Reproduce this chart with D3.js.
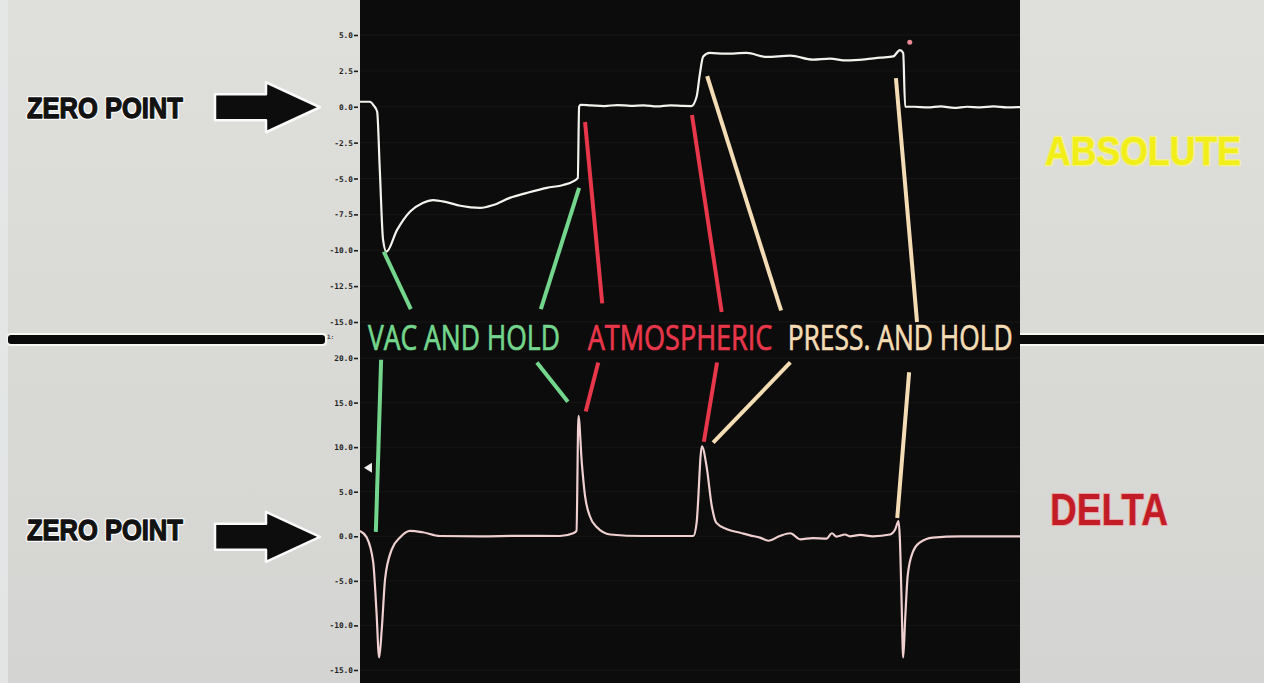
<!DOCTYPE html>
<html><head><meta charset="utf-8">
<script src="https://cdn.jsdelivr.net/npm/d3@7"></script>
<style>html,body{margin:0;padding:0;background:#d9d9d5;overflow:hidden}</style>
</head><body><svg id="c" width="1264" height="683"></svg>
<script>
// ---------- DATA ----------
// Absolute pressure trace (time units 0..100, value)
const absTime  = [0,1.5,2.1,2.6,3.0,3.5,4.0,5.6,7.6,9.5,11.1,13.1,15.2,18.2,20.2,22.7,25.3,28.3,30.8,32.3,33.0,33.2,33.4,35,37,39,41,43,45,47,49,50.2,51.0,51.5,52.0,53.0,55.3,58.6,61.6,65.2,68.6,71.2,73.7,76.5,78.8,80.8,81.8,82.3,82.6,84,86,88,90,92,94,96,98,100];
const absValue = [0.35,0.35,0.07,-0.35,-4.4,-9.3,-10.1,-8.6,-7.3,-6.7,-6.5,-6.65,-6.9,-7.05,-6.85,-6.35,-6.0,-5.65,-5.45,-5.2,-4.95,0.0,0.14,0.1,0.05,0.12,0.06,0.1,0.02,0.1,0.06,0.05,0.7,2.3,3.5,3.75,3.7,3.75,3.47,3.56,3.28,3.35,3.23,3.3,3.42,3.51,3.95,3.75,0.0,0.0,-0.05,0.03,-0.08,0.0,-0.04,0.02,-0.05,-0.02];
// Delta pressure trace
const deltaTime  = [0,1.0,2.0,2.5,2.9,3.3,3.8,4.8,6.1,7.6,9.5,12.1,18.2,24.2,30.3,32.3,32.8,33.1,33.6,34.1,34.8,35.9,37.9,42.9,50.5,51.0,51.8,52.5,53.3,54.0,55.6,57.6,59.1,60.6,61.9,63.6,65.2,66.7,68.6,70.7,71.5,72.2,73.5,74.2,75.8,77.7,80.3,81.1,81.6,81.8,82.05,82.3,82.6,83.0,83.8,84.8,86.8,90.9,100];
const deltaValue = [0.6,-0.1,-2.9,-8.5,-13.6,-10.4,-4.8,-1.5,-0.1,0.6,0.45,0.03,0.0,0.05,0.03,0.34,0.6,13.5,8.3,4.5,2.3,1.0,0.2,0.03,0.03,1.5,10.1,7.9,3.4,1.5,0.8,0.4,0.1,-0.15,-0.5,0.03,0.34,-0.34,-0.2,-0.26,0.34,-0.03,0.2,0.0,0.15,0.0,0.2,0.8,1.7,-0.34,-7.0,-13.6,-9.3,-4.3,-1.7,-0.7,-0.15,0.0,0.0];
// Tick labels
const absTicks   = [5,2.5,0,-2.5,-5,-7.5,-10,-12.5,-15];
const deltaTicks = [20,15,10,5,0,-5,-10,-15];
// Phase labels
const phaseNames  = ["VAC AND HOLD","ATMOSPHERIC","PRESS. AND HOLD"];
const phaseStartT = [1.2,34.5,64.8];
const phaseWidthT = [29.1,28.0,34.1];
const phaseColors = ["#74d68c","#e8374a","#f4dcb4"];
// Leader lines: [phase index, panel, t1, v1, t2, v2]
const leaderPhase = [0,0,1,1,2,2, 0,0,1,1,2,2];
const leaderPanel = ["abs","abs","abs","abs","abs","abs","delta","delta","delta","delta","delta","delta"];
const leaderT1 = [3.6,33.2,34.1,50.3,52.6,81.2, 3.2,26.8,36.1,54.1,65.2,83.2];
const leaderV1 = [-10.1,-5.66,-1.06,-0.58,2.14,2.0, 19.8,19.5,19.5,19.5,19.5,18.4];
const leaderT2 = [7.7,27.4,36.7,54.8,63.8,84.4, 2.4,31.5,34.2,52.1,53.5,81.4];
const leaderV2 = [-14.1,-14.1,-13.7,-14.3,-14.2,-15.0, 0.5,15.1,14.0,10.6,10.5,2.05];
// Side labels
const sideLabels = ["ABSOLUTE","DELTA"];
const zeroLabel = "ZERO POINT";

// ---------- SCALES ----------
const svg = d3.select("#c");
const W = 1264, H = 683;
const x = d3.scaleLinear().domain([0,100]).range([360,1020]);
const yA = d3.scaleLinear().domain([-15,5]).range([322,35]);
const yD = d3.scaleLinear().domain([-15,20]).range([670,358]);

// horizontally fit a text to a width with a transform
function fit(sel, w){
  const nat = sel.node().getComputedTextLength();
  const x0 = +sel.attr("x");
  sel.attr("transform",`translate(${x0},0) scale(${w/nat},1) translate(${-x0},0)`);
  return sel;
}

// background
const defs = svg.append("defs");
const g1 = defs.append("linearGradient").attr("id","bg").attr("x1",0).attr("y1",0).attr("x2",0).attr("y2",1);
g1.append("stop").attr("offset","0%").attr("stop-color","#dfdfdb");
g1.append("stop").attr("offset","100%").attr("stop-color","#d4d5d2");
svg.append("rect").attr("width",W).attr("height",H).attr("fill","url(#bg)");
svg.append("rect").attr("x",0).attr("y",0).attr("width",8).attr("height",H).attr("fill","#e6e8ea").attr("opacity",0.8);

// divider bars (behind plot area)
svg.append("rect").attr("x",7).attr("y",333).attr("width",320).attr("height",13).attr("rx",4).attr("fill","#f6f6f2");
svg.append("rect").attr("x",8).attr("y",335).attr("width",317).attr("height",9).attr("rx",3).attr("fill","#0a0a0a");
svg.append("rect").attr("x",1010).attr("y",333).attr("width",260).attr("height",13).attr("fill","#f6f6f2");
svg.append("rect").attr("x",1010).attr("y",335).attr("width",260).attr("height",9).attr("fill","#0a0a0a");

// plot area
svg.append("rect").attr("x",x(0)).attr("y",0).attr("width",x(100)-x(0)).attr("height",H).attr("fill","#0c0c0c");

// faint grid
const grid = svg.append("g").attr("stroke","#161616").attr("stroke-width",1);
absTicks.forEach(v=>grid.append("line").attr("x1",x(0)).attr("x2",x(100)).attr("y1",yA(v)).attr("y2",yA(v)));
deltaTicks.forEach(v=>grid.append("line").attr("x1",x(0)).attr("x2",x(100)).attr("y1",yD(v)).attr("y2",yD(v)));

// axes
function styleAxis(g){
  g.select(".domain").remove();
  g.selectAll(".tick line").attr("stroke","#1c1c1c").attr("stroke-width",1.6);
  g.selectAll(".tick text").attr("fill","#1e1e1e").style("font-family","'DejaVu Sans Mono',monospace").style("font-weight","bold").style("font-size","7.8px");
}
svg.append("g").attr("transform","translate(358,0)")
  .call(d3.axisLeft(yA).tickValues(absTicks).tickFormat(d=>d.toFixed(1)).tickSize(4).tickPadding(1)).call(styleAxis);
svg.append("g").attr("transform","translate(358,0)")
  .call(d3.axisLeft(yD).tickValues(deltaTicks).tickFormat(d=>d.toFixed(1)).tickSize(4).tickPadding(1)).call(styleAxis);
svg.append("text").attr("x",327).attr("y",339).text("1:").attr("fill","#444").style("font-family","'DejaVu Sans Mono',monospace").style("font-size","6px").style("font-weight","bold");

// traces
const absData = absTime.map((t,i)=>({t,v:absValue[i]}));
const deltaData = deltaTime.map((t,i)=>({t,v:deltaValue[i]}));
svg.append("path").datum(absData)
  .attr("d",d3.line().x(d=>x(d.t)).y(d=>yA(d.v)).curve(d3.curveMonotoneX))
  .attr("fill","none").attr("stroke","#f2f2ee").attr("stroke-width",2.2).attr("stroke-linejoin","round");
svg.append("path").datum(deltaData)
  .attr("d",d3.line().x(d=>x(d.t)).y(d=>yD(d.v)).curve(d3.curveMonotoneX))
  .attr("fill","none").attr("stroke","#efcfcf").attr("stroke-width",2.2).attr("stroke-linejoin","round");

// leader lines
leaderT1.forEach((t1,i)=>{
  const ys = leaderPanel[i]==="abs"?yA:yD;
  svg.append("line").attr("x1",x(t1)).attr("y1",ys(leaderV1[i])).attr("x2",x(leaderT2[i])).attr("y2",ys(leaderV2[i]))
    .attr("stroke",phaseColors[leaderPhase[i]]).attr("stroke-width",4).attr("stroke-linecap","butt");
});

// small markers
svg.append("circle").attr("cx",x(83.3)).attr("cy",yA(4.5)).attr("r",2.5).attr("fill","#ee8a96");
const tx = x(0.6), ty = yD(7.7);
svg.append("path").attr("d",`M${tx},${ty} l8,-5 l0,10 z`).attr("fill","#f0f0f0");

// phase labels
phaseNames.forEach((n,i)=>{
  const t = svg.append("text").attr("x",x(phaseStartT[i])).attr("y",350).text(n)
    .attr("fill",phaseColors[i]).attr("stroke",phaseColors[i]).attr("stroke-width",0.7)
    .style("font-family","'Liberation Sans Narrow','Open Sans',sans-serif").style("font-size","35px");
  fit(t, x(phaseWidthT[i])-x(0));
});

// zero point labels + arrows
[[yA(0)+0.5,118],[yD(0)+0.5,540]].forEach(([yz,base])=>{
  const p = `M215,${yz-13} L266,${yz-13} L266,${yz-25} L320,${yz} L266,${yz+25} L266,${yz+13} L215,${yz+13} Z`;
  svg.append("path").attr("d",p).attr("fill","#0d0d0d").attr("stroke","#fafafa").attr("stroke-width",2.5).attr("stroke-linejoin","round");
  const halo = svg.append("text").attr("x",27).attr("y",base).text(zeroLabel)
    .attr("fill","#fafafa").attr("stroke","#fafafa").attr("stroke-width",4).attr("stroke-linejoin","round")
    .style("font-family","'Liberation Sans',Arial,sans-serif").style("font-weight","bold").style("font-size","29px");
  fit(halo,156);
  const t = svg.append("text").attr("x",27).attr("y",base).text(zeroLabel)
    .attr("fill","#121212").attr("stroke","#121212").attr("stroke-width",1.3).attr("stroke-linejoin","round")
    .style("font-family","'Liberation Sans',Arial,sans-serif").style("font-weight","bold").style("font-size","29px");
  fit(t,156);
});

// side labels
const ab = svg.append("text").attr("x",1045).attr("y",165).text(sideLabels[0])
  .attr("fill","#f2ee1a").attr("stroke","#f4f08a").attr("stroke-width",2.5).attr("paint-order","stroke").attr("stroke-linejoin","round")
  .style("font-family","'Liberation Sans',Arial,sans-serif").style("font-weight","bold").style("font-size","41px");
fit(ab,196);
const de = svg.append("text").attr("x",1050).attr("y",525).text(sideLabels[1])
  .attr("fill","#c21d26").attr("stroke","#e9a4a4").attr("stroke-width",2).attr("paint-order","stroke").attr("stroke-linejoin","round")
  .style("font-family","'Liberation Sans',Arial,sans-serif").style("font-weight","bold").style("font-size","45px");
fit(de,118);
</script></body></html>
